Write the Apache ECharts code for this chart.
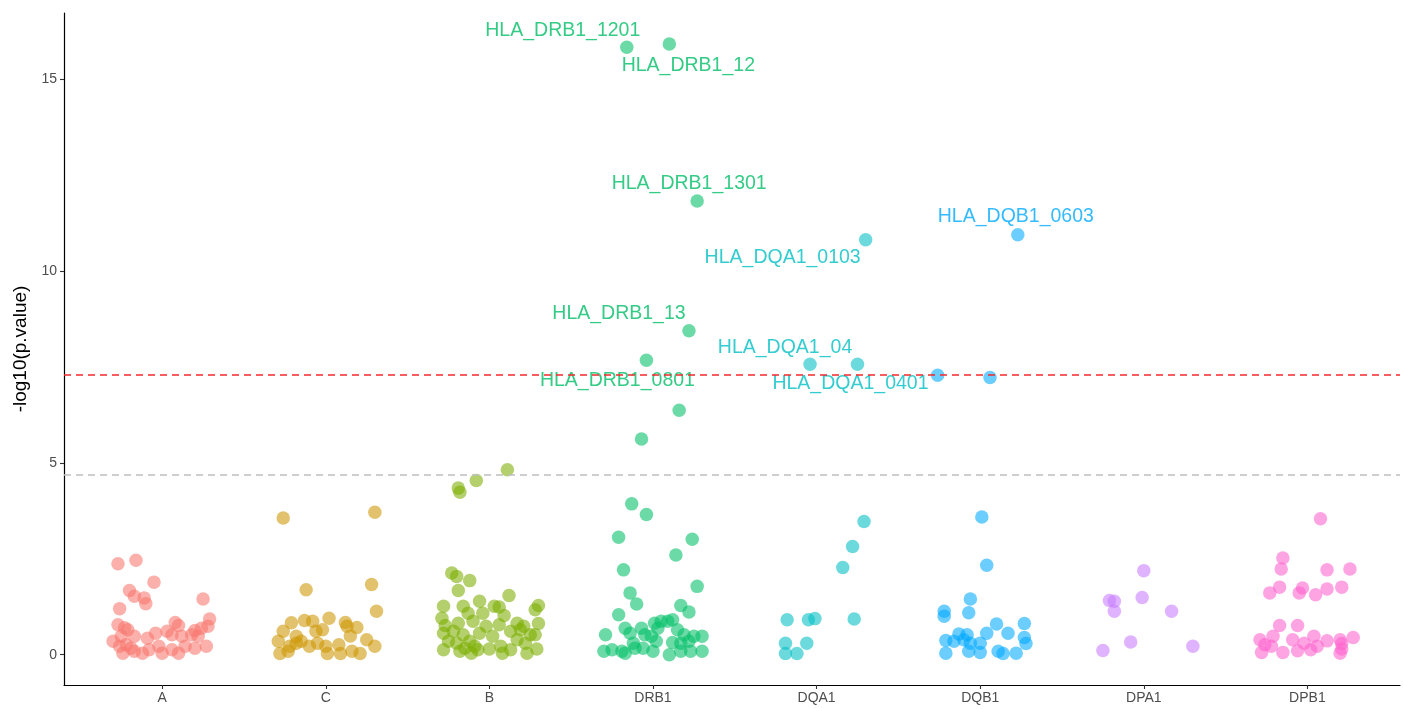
<!DOCTYPE html>
<html>
<head>
<meta charset="utf-8">
<script src="https://cdn.jsdelivr.net/npm/echarts@6/dist/echarts.min.js"></script>
<style>
  html, body { margin: 0; padding: 0; background: #ffffff; }
  #chart { width: 1403px; height: 709px; }
</style>
</head>
<body>
<div id="chart"></div>
<script>
// HLA gene groups, in plotting order
const genes = ['A', 'C', 'B', 'DRB1', 'DQA1', 'DQB1', 'DPA1', 'DPB1'];
const geneColors = ['#F8766D', '#CD9600', '#7CAE00', '#00BE67', '#00BFC4', '#00A9FF', '#C77CFF', '#FF61CC'];

// -log10(p) per allele, with its horizontal jitter (in category units)
const valA = [2.37, 2.46, 1.89, 1.67, 1.52, 1.48, 1.33, 1.20, 1.45, 0.93, 0.84, 0.76, 0.78, 0.70, 0.65, 0.63, 0.69, 0.74, 0.35, 0.48, 0.48, 0.43, 0.56, 0.61, 0.52, 0.48, 0.52, 0.48, 0.22, 0.26, 0.17, 0.04, 0.04, 0.22, 0.04, 0.13, 0.04, 0.22, 0.17, 0.22, 0.13, 0.09];
const jitA = [-0.27, -0.16, -0.05, -0.20, -0.17, -0.11, -0.10, -0.26, 0.25, 0.29, 0.08, 0.10, -0.27, -0.23, -0.21, 0.20, 0.24, 0.28, -0.30, -0.25, -0.17, -0.09, -0.04, 0.03, 0.06, 0.12, 0.18, 0.22, -0.26, -0.22, -0.19, -0.12, -0.24, -0.02, 0.00, 0.06, 0.10, 0.14, 0.20, 0.27, -0.08, -0.17];

const valC = [3.56, 3.71, 1.69, 1.83, 1.13, 0.83, 0.89, 0.87, 0.95, 0.84, 0.71, 0.61, 0.48, 0.65, 0.61, 0.74, 0.49, 0.35, 0.35, 0.22, 0.22, 0.22, 0.26, 0.39, 0.22, 0.03, 0.09, 0.03, 0.03, 0.09, 0.03, 0.30, 0.30];
const jitC = [-0.26, 0.30, -0.12, 0.28, 0.31, -0.21, -0.13, -0.08, 0.02, 0.12, 0.19, -0.26, -0.18, -0.02, -0.06, 0.13, 0.15, -0.29, -0.15, -0.22, -0.10, 0.00, 0.08, 0.25, 0.30, -0.28, -0.23, 0.01, 0.09, 0.16, 0.21, -0.05, -0.18];

const valB = [4.82, 4.54, 4.34, 4.23, 2.13, 2.04, 1.93, 1.67, 1.54, 1.28, 1.17, 1.26, 1.26, 1.39, 1.26, 1.24, 1.02, 0.95, 1.08, 1.08, 0.82, 0.81, 0.76, 0.82, 0.87, 0.74, 0.78, 0.74, 0.56, 0.61, 0.52, 0.56, 0.48, 0.61, 0.65, 0.52, 0.52, 0.35, 0.35, 0.22, 0.39, 0.30, 0.13, 0.09, 0.04, 0.13, 0.15, 0.04, 0.13, 0.04, 0.15, 0.17, 0.22, 0.30];
const jitB = [0.11, -0.08, -0.19, -0.18, -0.23, -0.20, -0.12, -0.19, 0.12, 0.30, 0.28, -0.28, -0.16, -0.06, 0.03, 0.06, 0.09, -0.29, -0.13, -0.04, 0.17, 0.30, -0.27, -0.19, -0.10, -0.02, 0.06, 0.21, -0.28, -0.22, -0.16, -0.06, 0.02, 0.13, 0.19, 0.25, 0.28, -0.25, -0.12, 0.07, 0.17, 0.22, -0.28, -0.18, -0.11, -0.07, 0.00, 0.08, 0.13, 0.23, 0.29, -0.15, -0.09, -0.20];

const valDRB1 = [15.83, 15.91, 11.82, 8.44, 7.67, 6.37, 5.62, 3.93, 3.65, 3.06, 3.01, 2.60, 2.21, 1.78, 1.61, 1.32, 1.28, 1.11, 1.04, 0.82, 0.87, 0.87, 0.91, 0.69, 0.69, 0.69, 0.65, 0.52, 0.56, 0.52, 0.48, 0.52, 0.48, 0.48, 0.30, 0.35, 0.32, 0.30, 0.35, 0.09, 0.13, 0.09, 0.17, 0.09, 0.00, 0.09, 0.09, 0.09, 0.04, 0.17];
const jitDRB1 = [-0.16, 0.10, 0.27, 0.22, -0.04, 0.16, -0.07, -0.13, -0.04, -0.21, 0.24, 0.14, -0.18, 0.27, -0.14, -0.10, 0.17, 0.22, -0.21, 0.01, 0.05, 0.09, 0.12, -0.17, -0.07, 0.03, 0.15, -0.29, -0.14, -0.05, -0.01, 0.19, 0.25, 0.30, -0.12, 0.02, 0.12, 0.17, 0.22, -0.30, -0.25, -0.19, -0.06, 0.00, 0.10, 0.17, 0.23, 0.30, -0.17, -0.11];
const nameDRB1 = ['HLA_DRB1_1201', 'HLA_DRB1_12', 'HLA_DRB1_1301', 'HLA_DRB1_13', 'HLA_DRB1_0801'];

const valDQA1 = [10.81, 7.57, 7.57, 3.47, 2.82, 2.27, 0.91, 0.91, 0.94, 0.93, 0.30, 0.30, 0.03, 0.03];
const jitDQA1 = [0.30, -0.04, 0.25, 0.29, 0.22, 0.16, -0.18, -0.05, -0.01, 0.23, -0.19, -0.06, -0.19, -0.12];
const nameDQA1 = ['HLA_DQA1_0103', 'HLA_DQA1_04', 'HLA_DQA1_0401'];

const valDQB1 = [10.94, 7.28, 7.22, 3.59, 2.33, 1.45, 1.13, 1.00, 1.09, 0.80, 0.81, 0.56, 0.56, 0.54, 0.52, 0.45, 0.37, 0.35, 0.39, 0.30, 0.30, 0.29, 0.04, 0.09, 0.06, 0.09, 0.03, 0.04];
const jitDQB1 = [0.23, -0.26, 0.06, 0.01, 0.04, -0.06, -0.22, -0.22, -0.07, 0.10, 0.27, 0.04, 0.17, -0.13, -0.08, 0.27, -0.21, -0.16, -0.10, -0.06, 0.00, 0.28, -0.21, -0.07, 0.00, 0.11, 0.14, 0.22];
const nameDQB1 = ['HLA_DQB1_0603'];

const valDPA1 = [2.19, 1.41, 1.39, 1.49, 1.13, 1.13, 0.33, 0.11, 0.22];
const jitDPA1 = [0.00, -0.21, -0.18, -0.01, -0.18, 0.17, -0.08, -0.25, 0.30];

const valDPB1 = [3.54, 2.52, 2.23, 2.21, 2.23, 1.76, 1.61, 1.74, 1.61, 1.56, 1.71, 1.76, 0.76, 0.76, 0.39, 0.48, 0.39, 0.48, 0.36, 0.39, 0.45, 0.26, 0.30, 0.29, 0.06, 0.06, 0.10, 0.13, 0.04, 0.15, 0.22, 0.22];
const jitDPB1 = [0.08, -0.15, -0.16, 0.12, 0.26, -0.17, -0.23, -0.03, -0.05, 0.05, 0.12, 0.21, -0.17, -0.06, -0.29, -0.21, -0.09, 0.04, 0.12, 0.20, 0.28, -0.26, -0.02, 0.21, -0.28, -0.15, -0.06, 0.02, 0.20, 0.21, -0.22, 0.06];

// significance thresholds, -log10(p)
const genomeWide = 7.3;
const suggestive = 4.7;

// y-axis tick values
const yTicks = [0, 5, 10, 15];

// where each allele label sits relative to its point (px)
const labelOffsets = {
  'HLA_DRB1_1201': [-64, -17],
  'HLA_DRB1_12': [19, 22],
  'HLA_DRB1_1301': [-8, -17],
  'HLA_DRB1_13': [-70, -17],
  'HLA_DRB1_0801': [-29, 20],
  'HLA_DQA1_0103': [-83, 18],
  'HLA_DQA1_04': [-25, -17],
  'HLA_DQA1_0401': [-7, 19],
  'HLA_DQB1_0603': [-2, -18]
};

const groups = [
  [valA, jitA, []],
  [valC, jitC, []],
  [valB, jitB, []],
  [valDRB1, jitDRB1, nameDRB1],
  [valDQA1, jitDQA1, nameDQA1],
  [valDQB1, jitDQB1, nameDQB1],
  [valDPA1, jitDPA1, []],
  [valDPB1, jitDPB1, []]
];

function fade(hex, a) {
  const n = parseInt(hex.slice(1), 16);
  return 'rgba(' + (n >> 16 & 255) + ',' + (n >> 8 & 255) + ',' + (n & 255) + ',' + a + ')';
}

const series = groups.map(function (g, gi) {
  const vals = g[0], jit = g[1], names = g[2];
  const color = geneColors[gi];
  const data = vals.map(function (v, i) {
    const item = { value: [gi + 1 + jit[i], v] };
    if (i < names.length) {
      item.name = names[i];
      item.label = {
        show: true,
        position: 'inside',
        formatter: names[i],
        offset: labelOffsets[names[i]],
        color: color,
        fontSize: 19.5,
        fontFamily: 'Liberation Sans, Arial, sans-serif'
      };
    }
    return item;
  });
  return {
    type: 'scatter',
    name: genes[gi],
    data: data,
    symbol: 'circle',
    symbolSize: 13.5,
    itemStyle: { color: fade(color, 0.72) },
    emphasis: { disabled: true },
    z: 3
  };
});

// threshold lines
series.push({
  type: 'line',
  data: [],
  silent: true,
  markLine: {
    silent: true,
    symbol: 'none',
    label: { show: false },
    data: [
      { yAxis: genomeWide, lineStyle: { color: '#F2282A', type: [7, 5], width: 1.6 } },
      { yAxis: suggestive, lineStyle: { color: '#BEBEBE', type: [7, 5], width: 1.6 } }
    ]
  },
  z: 2
});

const chart = echarts.init(document.getElementById('chart'), null, { renderer: 'canvas' });
chart.setOption({
  animation: false,
  backgroundColor: '#ffffff',
  grid: { left: 64, right: 3, top: 13, bottom: 24, containLabel: false },
  xAxis: {
    type: 'value',
    min: 0.4,
    max: 8.566,
    splitLine: { show: false },
    axisLine: { show: true, onZero: false, lineStyle: { color: '#000000', width: 1.2 } },
    axisTick: { show: true, customValues: genes.map(function (_, i) { return i + 1; }), length: 4, lineStyle: { color: '#333333', width: 1.1 } },
    axisLabel: {
      customValues: genes.map(function (_, i) { return i + 1; }),
      formatter: function (v) { return genes[Math.round(v) - 1] || ''; },
      color: '#4D4D4D',
      fontSize: 14,
      margin: 6,
      fontFamily: 'Liberation Sans, Arial, sans-serif'
    }
  },
  yAxis: {
    type: 'value',
    min: -0.79,
    max: 16.72,
    name: '-log10(p.value)',
    nameLocation: 'middle',
    nameGap: 32,
    nameTextStyle: { color: '#000000', fontSize: 19, fontFamily: 'Liberation Sans, Arial, sans-serif' },
    splitLine: { show: false },
    axisLine: { show: true, onZero: false, lineStyle: { color: '#000000', width: 1.2 } },
    axisTick: { show: true, customValues: yTicks, length: 4, lineStyle: { color: '#333333', width: 1.1 } },
    axisLabel: {
      customValues: yTicks,
      color: '#4D4D4D',
      fontSize: 14,
      margin: 7,
      fontFamily: 'Liberation Sans, Arial, sans-serif'
    }
  },
  series: series
});
</script>
</body>
</html>
